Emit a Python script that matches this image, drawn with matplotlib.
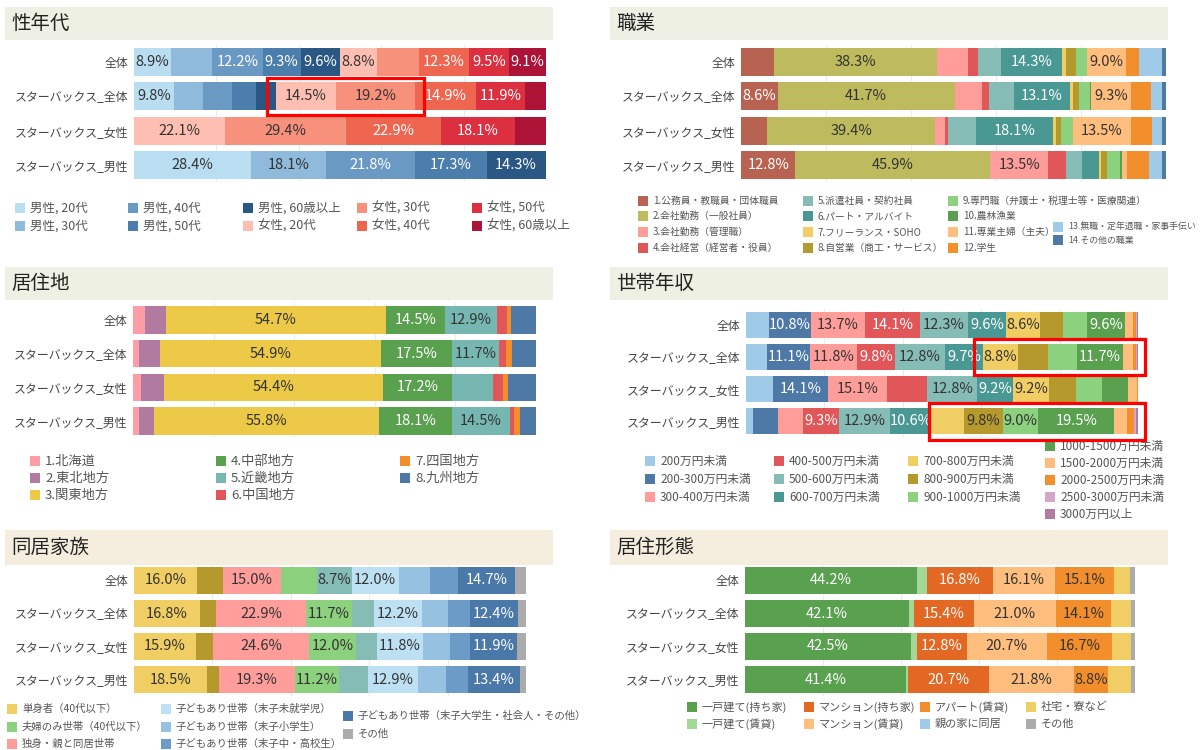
import matplotlib
matplotlib.use('Agg')
import matplotlib.pyplot as plt
from matplotlib.patches import Rectangle
import numpy as np

plt.rcParams['font.family'] = ['Noto Sans CJK JP', 'DejaVu Sans']

W, H = 1200, 750
ROWS = ['全体', 'スターバックス_全体', 'スターバックス_女性', 'スターバックス_男性']

# 性年代
age_cats = ['男性, 20代', '男性, 30代', '男性, 40代', '男性, 50代', '男性, 60歳以上',
            '女性, 20代', '女性, 30代', '女性, 40代', '女性, 50代', '女性, 60歳以上']
age_colors = ['#B9DDF1', '#8FBADB', '#6A9AC4', '#4B7DAD', '#2A5783',
              '#FFBEB2', '#F7917C', '#EE6550', '#DC2F3F', '#AD1337']
age_vals = [[8.9, 10.1, 12.2, 9.3, 9.6, 8.8, 10.2, 12.3, 9.5, 9.1],
            [9.8, 6.9, 7.2, 5.8, 4.8, 14.5, 19.2, 14.9, 11.9, 5.0],
            [0, 0, 0, 0, 0, 22.1, 29.4, 22.9, 18.1, 7.5],
            [28.4, 18.1, 21.8, 17.3, 14.3, 0, 0, 0, 0, 0]]
age_shown = [[0, 2, 3, 4, 5, 7, 8, 9], [0, 5, 6, 7, 8], [5, 6, 7, 8], [0, 1, 2, 3, 4]]

# 職業
job_cats = ['1.公務員・教職員・団体職員', '2.会社勤務（一般社員）', '3.会社勤務（管理職）',
            '4.会社経営（経営者・役員）', '5.派遣社員・契約社員', '6.パート・アルバイト',
            '7.フリーランス・SOHO', '8.自営業（商工・サービス）',
            '9.専門職（弁護士・税理士等・医療関連）', '10.農林漁業', '11.専業主婦（主夫）',
            '12.学生', '13.無職・定年退職・家事手伝い', '14.その他の職業']
job_colors = ['#B86352', '#BDBB5E', '#FF9D9A', '#E15759', '#86BCB6', '#499894', '#F1CE63',
              '#B6992D', '#8CD17D', '#59A14F', '#FFBE7D', '#F28E2B', '#A0CBE8', '#4E79A7']
job_vals = [[7.8, 38.3, 7.2, 2.4, 5.5, 14.3, 1.0, 2.4, 2.4, 0.2, 9.0, 3.1, 5.4, 1.0],
            [8.6, 41.7, 6.3, 1.8, 5.9, 13.1, 0.7, 1.4, 2.7, 0.2, 9.3, 4.7, 2.7, 0.9],
            [6.2, 39.4, 2.5, 0.6, 6.7, 18.1, 0.6, 1.2, 2.7, 0.2, 13.5, 4.9, 2.5, 0.9],
            [12.8, 45.9, 13.5, 4.2, 3.9, 3.9, 0.5, 1.4, 3.1, 0.4, 1.3, 5.2, 3.0, 0.9]]
job_shown = [[1, 5, 10], [0, 1, 5, 10], [1, 5, 10], [0, 1, 2]]

# 居住地
area_cats = ['1.北海道', '2.東北地方', '3.関東地方', '4.中部地方',
             '5.近畿地方', '6.中国地方', '7.四国地方', '8.九州地方']
area_colors = ['#FF9DA7', '#B07AA1', '#EDC948', '#59A14F', '#76B7B2', '#E15759', '#F28E2B', '#4E79A7']
area_vals = [[2.9, 5.2, 54.7, 14.5, 12.9, 2.7, 1.0, 6.1],
             [1.6, 5.1, 54.9, 17.5, 11.7, 1.8, 1.5, 5.9],
             [1.9, 5.7, 54.4, 17.2, 10.2, 2.3, 1.4, 6.9],
             [1.5, 3.7, 55.8, 18.1, 14.5, 1.0, 1.5, 3.9]]
area_shown = [[2, 3, 4], [2, 3, 4], [2, 3], [2, 3, 4]]

# 世帯年収
inc_cats = ['200万円未満', '200-300万円未満', '300-400万円未満', '400-500万円未満',
            '500-600万円未満', '600-700万円未満', '700-800万円未満', '800-900万円未満',
            '900-1000万円未満', '1000-1500万円未満', '1500-2000万円未満', '2000-2500万円未満',
            '2500-3000万円未満', '3000万円以上']
inc_colors = ['#A0CBE8', '#4E79A7', '#FF9D9A', '#E15759', '#86BCB6', '#499894', '#F1CE63',
              '#B6992D', '#8CD17D', '#59A14F', '#FFBE7D', '#F28E2B', '#D4A6C8', '#B07AA1']
inc_vals = [[5.8, 10.8, 13.7, 14.1, 12.3, 9.6, 8.6, 6.0, 6.2, 9.6, 2.1, 0.7, 0.2, 0.3],
            [5.3, 11.1, 11.8, 9.8, 12.8, 9.7, 8.8, 7.7, 7.4, 11.7, 2.6, 0.9, 0.2, 0.2],
            [6.8, 14.1, 15.1, 10.2, 12.8, 9.2, 9.2, 6.7, 6.6, 6.7, 2.4, 0.1, 0.1, 0.0],
            [1.8, 6.4, 6.3, 9.3, 12.9, 10.6, 8.4, 9.8, 9.0, 19.5, 3.2, 1.7, 0.6, 0.5]]
inc_shown = [[1, 2, 3, 4, 5, 6, 9], [1, 2, 3, 4, 5, 6, 9], [1, 2, 4, 5, 6], [3, 4, 5, 7, 8, 9]]

# 同居家族
fam_cats = ['単身者（40代以下）', '単身者（50代以上）', '独身・親と同居世帯', '夫婦のみ世帯（40代以下）',
            '夫婦のみ世帯（50代以上）', '子どもあり世帯（末子未就学児）', '子どもあり世帯（末子小学生）',
            '子どもあり世帯（末子中・高校生）', '子どもあり世帯（末子大学生・社会人・その他）', 'その他']
fam_colors = ['#F1CE63', '#B6992D', '#FF9D9A', '#8CD17D', '#86BCB6',
              '#BEE0F3', '#96C1E0', '#6B9BC6', '#4A78A8', '#ABABAB']
fam_vals = [[16.0, 6.6, 15.0, 9.2, 8.7, 12.0, 8.1, 7.0, 14.7, 2.7],
            [16.8, 4.2, 22.9, 11.7, 5.6, 12.2, 6.7, 5.5, 12.4, 2.0],
            [15.9, 4.2, 24.6, 12.0, 5.3, 11.8, 6.7, 5.3, 11.9, 2.3],
            [18.5, 3.2, 19.3, 11.2, 7.4, 12.9, 7.0, 5.6, 13.4, 1.5]]
fam_shown = [[0, 2, 4, 5, 8], [0, 2, 3, 5, 8], [0, 2, 3, 5, 8], [0, 2, 3, 5, 8]]

# 居住形態
home_cats = ['一戸建て(持ち家)', '一戸建て(賃貸)', 'マンション(持ち家)', 'マンション(賃貸)',
             'アパート(賃貸)', '親の家に同居', '社宅・寮など', 'その他']
home_colors = ['#59A14F', '#A3D897', '#E26824', '#FFBE7D', '#F28E2B', '#A0CBE8', '#F1CE63', '#ABABAB']
home_vals = [[44.2, 2.5, 16.8, 16.1, 15.1, 0.0, 4.1, 1.2],
             [42.1, 1.2, 15.4, 21.0, 14.1, 0.0, 5.2, 1.0],
             [42.5, 1.5, 12.8, 20.7, 16.7, 0.0, 4.8, 1.0],
             [41.4, 0.4, 20.7, 21.8, 8.8, 0.0, 6.0, 0.9]]
home_shown = [[0, 2, 3, 4]] * 4


fig = plt.figure(figsize=(12, 7.5), dpi=100)
canvas = fig.add_axes([0, 0, 1, 1], zorder=-1)
canvas.set_xlim(0, W)
canvas.set_ylim(H, 0)
canvas.axis('off')


def text_color(c):
    r, g, b = matplotlib.colors.to_rgb(c)
    lum = 255 * (0.299 * r + 0.587 * g + 0.114 * b)
    return 'white' if lum < 147 else '#333333'


def title_bar(x0, y0, x1, y1, title, color):
    canvas.add_patch(Rectangle((x0, y0), x1 - x0, y1 - y0, color=color, lw=0))
    canvas.text(x0 + 6, (y0 + y1) / 2, title, va='center', ha='left', fontsize=14, color='#222222')


def bar_panel(x0, y0, x1, y1, vals, colors, shown, fs=10.5):
    ax = fig.add_axes([x0 / W, 1 - y1 / H, (x1 - x0) / W, (y1 - y0) / H])
    vals = np.array(vals, dtype=float)
    left = np.zeros(len(ROWS))
    for j, c in enumerate(colors):
        ax.barh(range(len(ROWS)), vals[:, j], left=left, height=0.82, color=c, lw=0)
        for i in range(len(ROWS)):
            if j in shown[i]:
                ax.text(left[i] + vals[i, j] / 2, i, f'{vals[i, j]:.1f}%', ha='center', va='center',
                        color=text_color(c), fontsize=fs)
        left += vals[:, j]
    ax.set_xlim(0, 100)
    ax.set_ylim(len(ROWS) - 0.5, -0.5)
    ax.set_yticks(range(len(ROWS)))
    ax.set_yticklabels(ROWS, fontsize=8.6, color='#444444')
    ax.set_xticks([20, 40, 60, 80])
    ax.set_xticklabels([])
    ax.tick_params(length=0, pad=4)
    ax.grid(axis='x', color='#EBEBEB', lw=0.8)
    ax.set_axisbelow(True)
    for s in ax.spines.values():
        s.set_visible(False)
    ax.patch.set_alpha(0)
    return ax


def legend_col(x, ys, idx, cats, colors, fs):
    for y, k in zip(ys, idx):
        canvas.add_patch(Rectangle((x, y - 5), 10, 10, color=colors[k], lw=0))
        canvas.text(x + 15, y, cats[k], va='center', ha='left', fontsize=fs, color='#555555')


def red_box(ax, x0, x1, y0, y1):
    ax.add_patch(Rectangle((x0, y0), x1 - x0, y1 - y0, fill=False, ec='#FF0000', lw=2.3,
                           clip_on=False, zorder=10))


GREEN_HEAD = '#EEF0E3'
BEIGE_HEAD = '#F5EEDF'

# 性年代
title_bar(5, 7, 553, 40, '性年代', GREEN_HEAD)
ax1 = bar_panel(134, 45, 546, 182, age_vals, age_colors, age_shown)
red_box(ax1, 32.3, 70.5, 0.47, 1.55)
for c, x in enumerate([15, 128, 243, 357, 472]):
    legend_col(x, [208, 226], [2 * c, 2 * c + 1], age_cats, age_colors, 9)

# 職業
title_bar(610, 7, 1168, 40, '職業', GREEN_HEAD)
bar_panel(741, 45, 1166, 182, job_vals, job_colors, job_shown)
legend_col(638, [201, 216, 232, 248], [0, 1, 2, 3], job_cats, job_colors, 7)
legend_col(803, [201, 216, 232, 248], [4, 5, 6, 7], job_cats, job_colors, 7)
legend_col(948, [201, 216, 232, 248], [8, 9, 10, 11], job_cats, job_colors, 7)
legend_col(1053, [227, 240], [12, 13], job_cats, job_colors, 6.4)

# 居住地
title_bar(5, 267, 553, 300, '居住地', GREEN_HEAD)
bar_panel(133, 303, 536, 438, area_vals, area_colors, area_shown)
legend_col(30, [461, 478, 495], [0, 1, 2], area_cats, area_colors, 9.5)
legend_col(216, [461, 478, 495], [3, 4, 5], area_cats, area_colors, 9.5)
legend_col(400, [461, 478], [6, 7], area_cats, area_colors, 9.5)

# 世帯年収
title_bar(610, 267, 1168, 300, '世帯年収', GREEN_HEAD)
ax4 = bar_panel(746, 309, 1138, 437, inc_vals, inc_colors, inc_shown)
red_box(ax4, 58.2, 101.8, 0.45, 1.55)
red_box(ax4, 46.7, 101.8, 2.45, 3.6)
legend_col(645, [461, 479, 497], [0, 1, 2], inc_cats, inc_colors, 8.5)
legend_col(774, [461, 479, 497], [3, 4, 5], inc_cats, inc_colors, 8.5)
legend_col(908, [461, 479, 497], [6, 7, 8], inc_cats, inc_colors, 8.5)
legend_col(1045, [446, 463, 480, 497, 514], [9, 10, 11, 12, 13], inc_cats, inc_colors, 8.5)

# 同居家族
title_bar(5, 530, 553, 565, '同居家族', BEIGE_HEAD)
bar_panel(134, 564, 526, 696, fam_vals, fam_colors, fam_shown)
legend_col(7, [709, 727, 744], [0, 3, 2], fam_cats, fam_colors, 7.5)
legend_col(161, [709, 727, 744], [5, 6, 7], fam_cats, fam_colors, 7.5)
legend_col(343, [716, 734], [8, 9], fam_cats, fam_colors, 7.5)

# 居住形態
title_bar(610, 530, 1168, 565, '居住形態', BEIGE_HEAD)
bar_panel(745, 564, 1135, 696, home_vals, home_colors, home_shown)
for c, x in enumerate([687, 804, 920, 1026]):
    legend_col(x, [707, 724], [2 * c, 2 * c + 1], home_cats, home_colors, 8)

fig.savefig('out.png', dpi=100)
